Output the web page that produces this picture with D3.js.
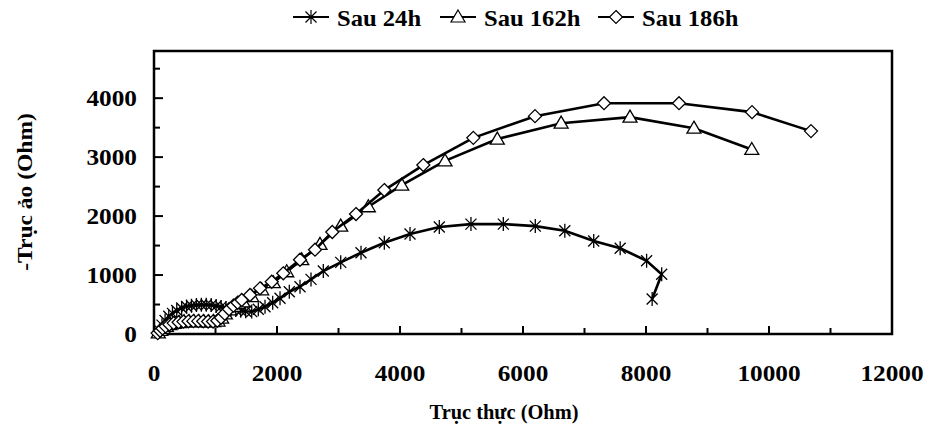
<!DOCTYPE html>
<html>
<head>
<meta charset="utf-8">
<script src="https://cdn.jsdelivr.net/npm/d3@7/dist/d3.min.js"></script>
<style>
  body { margin: 0; background: #fff; }
  text { font-family: "Liberation Serif", "Times New Roman", serif; font-weight: bold; fill: #000; }
</style>
</head>
<body>
<svg id="chart" width="925" height="430"></svg>
<script>
// series names (legend)
const seriesNames = ['Sau 24h', 'Sau 162h', 'Sau 186h'];

// Sau 24h
const x24 = [90,130,180,240,300,370,450,530,610,690,770,850,930,1010,1090,1170,1250,1330,1410,1490,1589,1696,1805,1930,2049,2200,2374,2553,2753,3036,3366,3745,4163,4639,5154,5680,6200,6680,7150,7580,8010,8255,8100];
const y24 = [60,150,230,300,350,400,440,465,480,490,495,495,490,475,460,440,420,405,395,385,380,419,463,531,605,717,802,926,1068,1215,1378,1547,1695,1814,1864,1864,1830,1751,1576,1453,1242,1012,594];

// Sau 162h
const x162 = [70,110,150,200,260,330,410,490,570,650,730,810,890,970,1040,1100,1160,1230,1300,1370,1447,1589,1751,1940,2158,2402,2699,3036,3485,4028,4732,5582,6620,7740,8780,9720];
const y162 = [20,60,95,130,160,180,195,205,210,212,212,210,208,210,220,270,340,410,470,515,545,635,750,870,1056,1260,1520,1830,2158,2526,2937,3306,3576,3678,3491,3130];

// Sau 186h
const x186 = [60,100,140,190,250,320,400,480,560,640,720,800,880,960,1030,1090,1150,1220,1290,1360,1426,1561,1724,1914,2102,2374,2618,2899,3285,3745,4379,5192,6195,7317,8537,9724,10683];
const y186 = [15,55,95,130,160,185,200,210,215,218,218,215,212,212,225,275,345,420,480,530,576,661,775,886,1029,1260,1430,1730,2034,2441,2865,3327,3695,3915,3915,3763,3441];

// axis ticks
const xTicks = [0,2000,4000,6000,8000,10000,12000];
const xMinor = [1000,3000,5000,7000,9000,11000];
const yTicks = [0,1000,2000,3000,4000];
const yMinor = [500,1500,2500,3500,4500];

const svg = d3.select('#chart');
const pLeft = 154, pRight = 892, pTop = 51, pBottom = 334;

const x = d3.scaleLinear().domain([0, 12000]).range([pLeft, pRight]);
const y = d3.scaleLinear().domain([0, 4800]).range([pBottom, pTop]);

// text in the source picture is a bit stretched sideways, so scale it
function label(px, py, str, anchor, size, sx, rot) {
  return svg.append('text')
    .attr('transform', 'translate(' + px + ',' + py + ')' + (rot ? ' rotate(' + rot + ')' : '') + ' scale(' + sx + ',1)')
    .attr('text-anchor', anchor)
    .style('font-size', size + 'px')
    .text(str);
}

// marker shapes
const markers = [
  'M-5.5,-5.5L5.5,5.5M-5.5,5.5L5.5,-5.5M0,-7L0,7',  // asterisk
  'M0,-7L7,5L-7,5Z',                              // triangle
  'M0,-6.5L6.5,0L0,6.5L-6.5,0Z'                   // diamond
];

// plot frame
svg.append('rect')
  .attr('x', pLeft).attr('y', pTop)
  .attr('width', pRight - pLeft).attr('height', pBottom - pTop)
  .attr('fill', 'none').attr('stroke', '#000').attr('stroke-width', 2.5);

// ticks inside
svg.selectAll('.ytick').data(yTicks.concat(yMinor)).enter().append('line')
  .attr('x1', pLeft).attr('x2', d => pLeft + (d % 1000 === 0 ? 9 : 6))
  .attr('y1', d => y(d)).attr('y2', d => y(d))
  .attr('stroke', '#000').attr('stroke-width', 2);

svg.selectAll('.xtick').data(xTicks.concat(xMinor)).enter().append('line')
  .attr('x1', d => x(d)).attr('x2', d => x(d))
  .attr('y1', pBottom).attr('y2', d => pBottom - (d % 2000 === 0 ? 8 : 6))
  .attr('stroke', '#000').attr('stroke-width', 2);

// tick labels
yTicks.forEach(d => label(137, y(d) + 8, d, 'end', 23, 1.1));
xTicks.forEach(d => label(x(d), 381, d, 'middle', 23, 1.1));

// axis titles
label(504, 419, 'Trục thực (Ohm)', 'middle', 20, 1.02);
label(32, 192, '-Trục ảo (Ohm)', 'middle', 22, 1.07, -90);

// series
const line = d3.line().x(d => x(d[0])).y(d => y(d[1]));
const data = [d3.zip(x24, y24), d3.zip(x162, y162), d3.zip(x186, y186)];

data.forEach((pts, i) => {
  svg.append('path').datum(pts)
    .attr('d', line)
    .attr('fill', 'none').attr('stroke', '#000').attr('stroke-width', 2.6);
  svg.selectAll('.m' + i).data(pts).enter().append('path')
    .attr('transform', d => 'translate(' + x(d[0]) + ',' + y(d[1]) + ')')
    .attr('d', markers[i])
    .attr('fill', i === 0 ? 'none' : '#fff')
    .attr('stroke', '#000').attr('stroke-width', 1.3);
});

// legend
const legX = [293, 440, 598];
seriesNames.forEach((n, i) => {
  svg.append('line')
    .attr('x1', legX[i]).attr('x2', legX[i] + 36)
    .attr('y1', 17).attr('y2', 17)
    .attr('stroke', '#000').attr('stroke-width', 2.2);
  svg.append('path')
    .attr('transform', 'translate(' + (legX[i] + 18) + ',17)')
    .attr('d', markers[i])
    .attr('fill', i === 0 ? 'none' : '#fff')
    .attr('stroke', '#000').attr('stroke-width', 1.2);
  label(legX[i] + 44, 26, n, 'start', 23, 1.07);
});
</script>
</body>
</html>
